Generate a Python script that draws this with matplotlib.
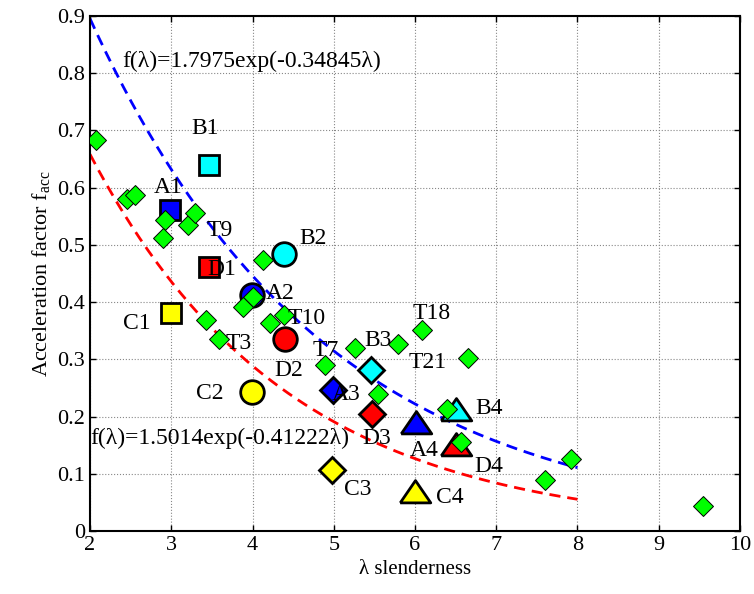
import numpy as np
import matplotlib
matplotlib.use("Agg")
import matplotlib.pyplot as plt

plt.rcParams['font.family'] = ['Liberation Serif', 'DejaVu Serif']
plt.rcParams['mathtext.fontset'] = 'custom'
plt.rcParams['mathtext.rm'] = 'Liberation Serif'
plt.rcParams['mathtext.it'] = 'Liberation Serif:italic'

# test series T (green diamonds)
t_x = [2.07, 2.46, 2.55, 2.92, 2.90, 3.20, 3.29, 4.13, 4.01, 3.88, 3.43, 3.59, 4.22,
       4.39, 4.89, 5.26, 5.54, 5.79, 6.08, 6.65, 6.39, 6.57, 7.92, 7.60, 9.55]
t_y = [0.684, 0.580, 0.588, 0.544, 0.512, 0.534, 0.555, 0.474, 0.409, 0.392, 0.369, 0.335, 0.363,
       0.378, 0.291, 0.319, 0.239, 0.326, 0.351, 0.302, 0.214, 0.155, 0.126, 0.089, 0.044]

# specimen groups
spec_names = ['A1', 'B1', 'D1', 'C1', 'A2', 'B2', 'D2', 'C2',
              'A3', 'B3', 'D3', 'C3', 'A4', 'B4', 'D4', 'C4']
spec_x = [2.99, 3.46, 3.46, 3.00, 3.99, 4.39, 4.40, 3.99,
          4.99, 5.46, 5.47, 4.98, 6.01, 6.51, 6.50, 6.00]
spec_y = [0.561, 0.640, 0.461, 0.381, 0.412, 0.485, 0.336, 0.243,
          0.246, 0.281, 0.205, 0.106, 0.188, 0.212, 0.150, 0.068]
spec_mk = ['s'] * 4 + ['o'] * 4 + ['D'] * 4 + ['tri'] * 4
spec_col = ['#0000ff', '#00ffff', '#ff0000', '#ffff00'] * 4

# text labels
lab_txt = ['B1', 'A1', 'D1', 'C1', 'A2', 'B2', 'T9', 'T10', 'T3', 'D2', 'C2', 'T7',
           'A3', 'B3', 'D3', 'A4', 'C3', 'C4', 'B4', 'D4', 'T18', 'T21']
lab_x = [3.42, 2.96, 3.62, 2.57, 4.34, 4.75, 3.60, 4.66, 3.83, 4.44, 3.47, 4.90,
         5.15, 5.55, 5.53, 6.11, 5.29, 6.43, 6.91, 6.91, 6.21, 6.16]
lab_y = [0.703, 0.600, 0.457, 0.362, 0.415, 0.511, 0.525, 0.372, 0.328, 0.281, 0.240, 0.316,
         0.239, 0.333, 0.162, 0.141, 0.072, 0.058, 0.215, 0.113, 0.380, 0.295]

# fitted curves f = a*exp(b*lambda)
fit_a = [1.7975, 1.5014]
fit_b = [-0.34845, -0.41222]
fit_col = ['#0000ff', '#ff0000']

fig = plt.figure(figsize=(7.54, 5.94), dpi=100)
ax = fig.add_axes([0.1194, 0.106, 0.862, 0.867])

lam = np.linspace(2, 8, 60)
for a, b, c in zip(fit_a, fit_b, fit_col):
    ax.plot(lam, a * np.exp(b * lam), '--', color=c, lw=2, dashes=(4, 2.5), zorder=2)

# wide MATLAB-like triangle
tri = [(-1, -0.68), (1, -0.68), (0, 0.78), (-1, -0.68)]
markers = {'s': 's', 'o': 'o', 'D': 'D', 'tri': tri}
sizes = {'s': 14.5, 'o': 17, 'D': 13.5, 'tri': 22}
for x, y, m, c in zip(spec_x, spec_y, spec_mk, spec_col):
    ax.plot(x, y, marker=markers[m], ms=sizes[m], mfc=c, mec='black', mew=2,
            ls='none', zorder=3)

ax.plot(t_x, t_y, 'D', ms=10.5, mfc='#00ff00', mec='black', mew=0.7, ls='none', zorder=4)

for s, x, y in zip(lab_txt, lab_x, lab_y):
    ax.text(x, y, s, fontsize=17, ha='center', va='center', zorder=5)

ax.text(2.40, 0.82, 'f(λ)=1.7975exp(-0.34845λ)', fontsize=17, ha='left', va='center')
ax.text(2.0, 0.162, 'f(λ)=1.5014exp(-0.41222λ)', fontsize=17, ha='left', va='center')

ax.set_xlim(2, 10)
ax.set_ylim(0, 0.9)
ax.set_xticks(range(2, 11))
ax.set_yticks(np.arange(0, 0.91, 0.1))
ax.set_yticklabels(['0', '0.1', '0.2', '0.3', '0.4', '0.5', '0.6', '0.7', '0.8', '0.9'])
ax.grid(True, ls=':', color='#888888', lw=0.8)
ax.tick_params(direction='in', top=True, right=True, labelsize=16, length=4, width=1)
for sp in ax.spines.values():
    sp.set_linewidth(1.5)

ax.set_xlabel('λ slenderness', fontsize=15)
ax.set_ylabel(r'Acceleration factor f$_{\mathrm{acc}}$', fontsize=16)

fig.savefig('out.png', dpi=100)
